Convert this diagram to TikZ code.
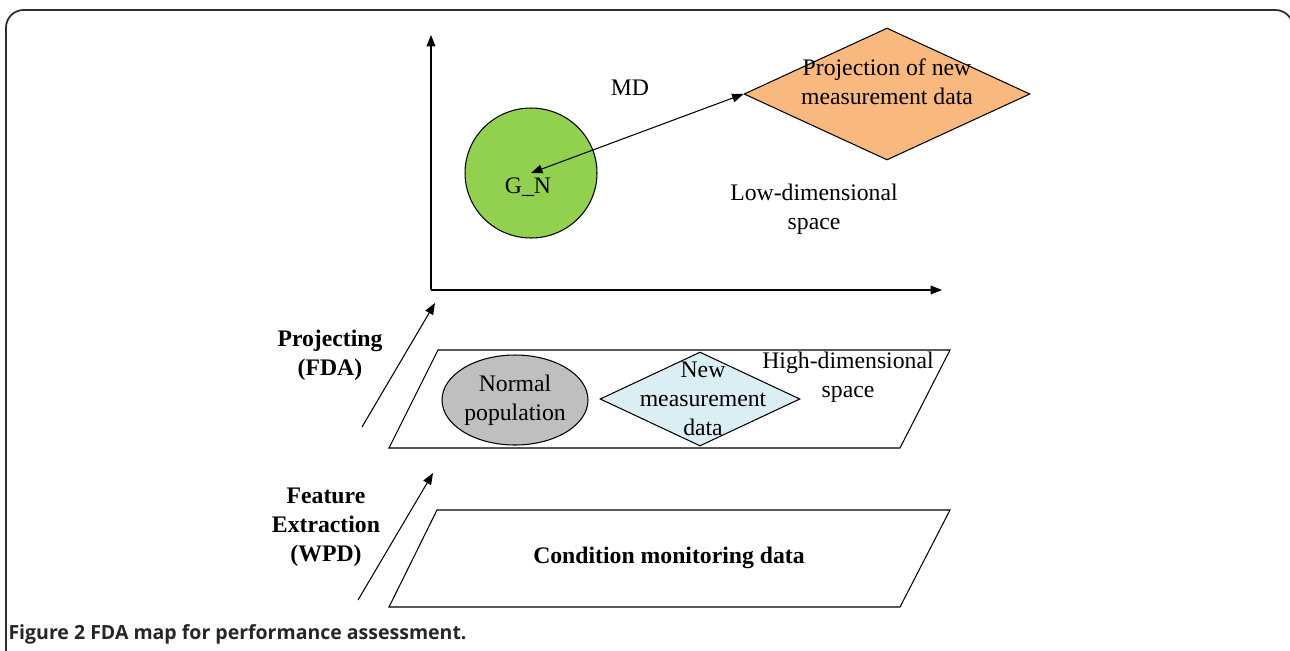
\documentclass[tikz,border=0pt]{standalone}
\usepackage{fontspec}
\setmainfont{Liberation Serif}
\newfontfamily\capfont{Open Sans}
\usepackage{tikz}
\usetikzlibrary{shapes.geometric, arrows.meta, positioning, calc}

\definecolor{gnfill}{RGB}{146,208,80}
\definecolor{projfill}{RGB}{248,184,126}
\definecolor{popfill}{RGB}{191,191,191}
\definecolor{newfill}{RGB}{218,238,243}
\definecolor{framegray}{RGB}{45,45,45}

\begin{document}
\begin{tikzpicture}[
  x=0.02cm, y=-0.02cm,
  font=\fontsize{13.5}{16.5}\selectfont,
  line width=0.6pt,
  arrow/.style={-{Triangle[length=6.5pt,width=5pt]}},
  plane/.style={draw=black},
  cluster/.style={ellipse, draw=black, inner sep=0pt},
  sample/.style={diamond, draw=black, inner sep=0pt},
  txt/.style={align=center, inner sep=0pt},
  steptxt/.style={align=center, inner sep=0pt, font=\fontsize{13.5}{16.5}\selectfont\bfseries}
]
\useasboundingbox (0,0) rectangle (1290,650);
\draw[framegray, line width=1pt, rounded corners=10] (6,670) -- (6,10) -- (1293,10) -- (1293,670);

% low-dimensional space
\coordinate (origin) at (431,290);
\coordinate (ytip) at (431,35);
\coordinate (xtip) at (942,290);
\draw[arrow] (origin) -- (ytip);
\draw[arrow] (origin) -- (xtip);
\node (gn) [cluster, fill=gnfill, minimum width=2.64cm, minimum height=2.6cm] at (531,173) {};
\node (gntxt) [txt] at (528,187) {G\_N};
\node (proj) [sample, fill=projfill, minimum width=5.72cm, minimum height=2.64cm] at (887,94) {};
\node (projtxt) [txt] at ($(proj.center)+(0,-12)$) {Projection of new\\measurement data};
\draw[{Triangle[length=6.5pt,width=5pt]}-{Triangle[length=6.5pt,width=5pt]}] (gn.center) -- (proj.west);
\node (md) [txt] at (630,88) {MD};
\node (lowdim) [txt] at (814,209) {Low-dimensional\\space};

% high-dimensional space
\draw[plane] (438,350) -- (950,350) -- (900,448) -- (389,448) -- cycle;
\node (pop) [cluster, fill=popfill, minimum width=2.92cm, minimum height=1.8cm] at (515,400) {};
\node (poptxt) [txt] at (pop.center) {Normal\\population};
\node (new) [sample, fill=newfill, minimum width=4cm, minimum height=1.88cm] at (700,399) {};
\node (newtxt) [txt] at ($(new.center)+(3,0)$) {New\\measurement\\data};
\node (highdim) [txt] at (848,377) {High-dimensional\\space};
\coordinate (fdafrom) at (362,427);
\coordinate (fdato) at (435,303);
\draw[arrow] (fdafrom) -- (fdato);
\node (fda) [steptxt] at (330,355) {Projecting\\(FDA)};

% raw data
\draw[plane] (437,510) -- (950,510) -- (900,607) -- (389,607) -- cycle;
\node (cmd) [steptxt] at (669,558) {Condition monitoring data};
\coordinate (wpdfrom) at (358,600);
\coordinate (wpdto) at (433,473);
\draw[arrow] (wpdfrom) -- (wpdto);
\node (wpd) [steptxt] at (326,527) {Feature\\Extraction\\(WPD)};

% caption
\node (caption) [anchor=base west, inner sep=0pt, font=\capfont\fontsize{11.1}{13}\selectfont, text=black!85] at (8,639) {\textbf{Figure 2} \textbf{FDA map for performance assessment.}};
\end{tikzpicture}
\end{document}
